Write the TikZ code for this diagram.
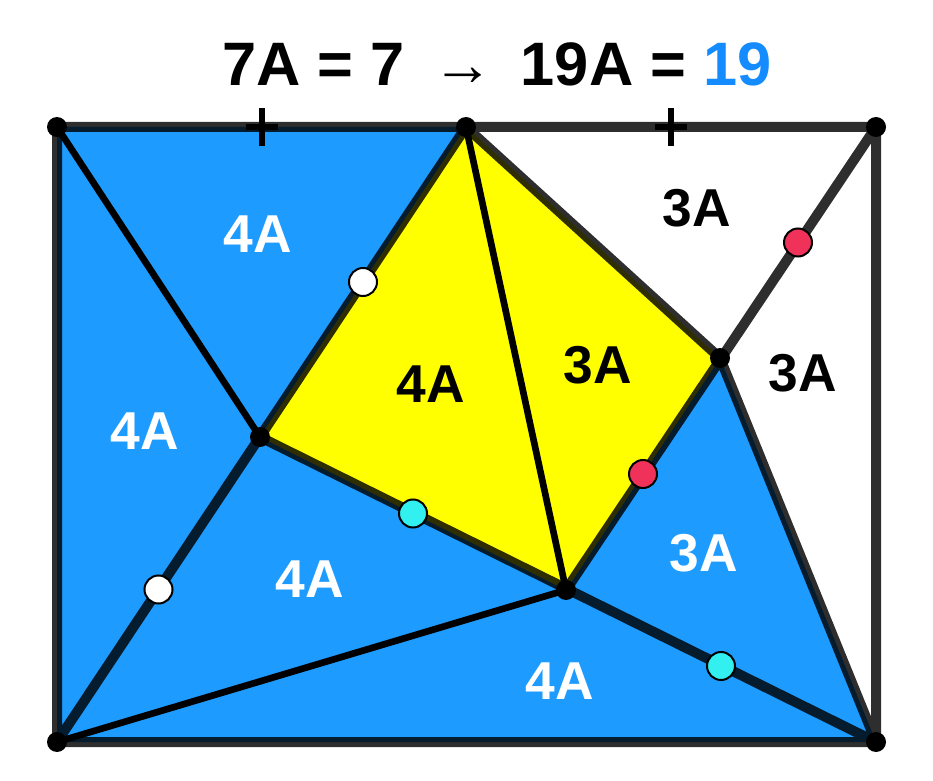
\documentclass[tikz,border=0pt]{standalone}
\usepackage{fontspec}
\setmainfont{Liberation Sans}
\usetikzlibrary{positioning}
\usetikzlibrary{calc}
\definecolor{areablue}{RGB}{30,155,255}
\definecolor{titleblue}{RGB}{20,140,255}
\definecolor{areayellow}{RGB}{255,255,0}
\definecolor{markcyan}{RGB}{50,240,240}
\definecolor{markred}{RGB}{240,50,90}
\tikzset{
  edge/.style={line width=7.5pt,draw=black,draw opacity=0.82,line join=round},
  cut/.style={line width=5pt,draw=black},
  vtx/.style={circle,fill=black,inner sep=0pt,minimum size=15pt},
  eqmark/.style={circle,draw=black,line width=1.5pt,inner sep=0pt,minimum size=21pt},
  area/.style={font=\fontsize{40}{40}\selectfont\bfseries},
}
\begin{document}
\begin{tikzpicture}[x=0.75pt,y=-0.75pt]
\useasboundingbox (0,0) rectangle (933,781);
% corners and inner points
\coordinate (TL) at (57,127);
\coordinate (TR) at (876,127);
\coordinate (BR) at (876,742);
\coordinate (BL) at (57,742);
\coordinate (M)  at (466,127);
\coordinate (P)  at (260,437);
\coordinate (Q)  at (566,590);
\coordinate (R)  at (720,358);

% regions
\fill[areablue] (TL) -- (M) -- (P) -- (Q) -- (R) -- (BR) -- (BL) -- cycle;
\fill[areayellow] (M) -- (R) -- (Q) -- (P) -- cycle;

% thin cuts
\draw[cut] (TL) -- (P);
\draw[cut] (M) -- (Q);
\draw[cut] (BL) -- (Q);

% thick edges
\draw[edge] (TL) rectangle (BR)
  (M) -- (BL) (TR) -- (Q) (P) -- (BR) (M) -- (R) -- (BR);

% ticks on the top side
\coordinate (T1) at ($(TL)!0.5!(M)$);
\coordinate (T2) at ($(M)!0.5!(TR)$);
\draw[line width=4.5pt] ($(T1)+(0,-19)$) -- ($(T1)+(0,19)$) ($(T1)+(-16,0)$) -- ($(T1)+(16,0)$);
\draw[line width=4.5pt] ($(T2)+(0,-19)$) -- ($(T2)+(0,19)$) ($(T2)+(-16,0)$) -- ($(T2)+(16,0)$);

% vertices
\foreach \v in {TL,TR,BR,BL,M,P,Q,R}
  \node[vtx] (d\v) at (\v) {};

% equal-length marks
\node[eqmark,fill=white]     (w1) at ($(M)!0.5!(P)$) {};
\node[eqmark,fill=white]     (w2) at ($(P)!0.5!(BL)$) {};
\node[eqmark,fill=markcyan]  (c1) at ($(P)!0.5!(Q)$) {};
\node[eqmark,fill=markcyan]  (c2) at ($(Q)!0.5!(BR)$) {};
\node[eqmark,fill=markred]   (r1) at ($(TR)!0.5!(R)$) {};
\node[eqmark,fill=markred]   (r2) at ($(R)!0.5!(Q)$) {};

% areas
\node[area,text=white] (a1) at (258,234) {4A};
\node[area,text=white] (a2) at (145,431) {4A};
\node[area,text=white] (a3) at (310,579) {4A};
\node[area,text=white] (a4) at (560,681) {4A};
\node[area]            (a5) at (431,384) {4A};
\node[area]            (a6) at (598,365) {3A};
\node[area]            (a7) at (697,208) {3A};
\node[area]            (a8) at (803,373) {3A};
\node[area,text=white] (a9) at (704,553) {3A};

% title
\node[font=\fontsize{46}{46}\selectfont\bfseries] (title) at (497,64)
  {7A = 7 \,{\mdseries →}\, 19A = \textcolor{titleblue}{19}};
\end{tikzpicture}
\end{document}
